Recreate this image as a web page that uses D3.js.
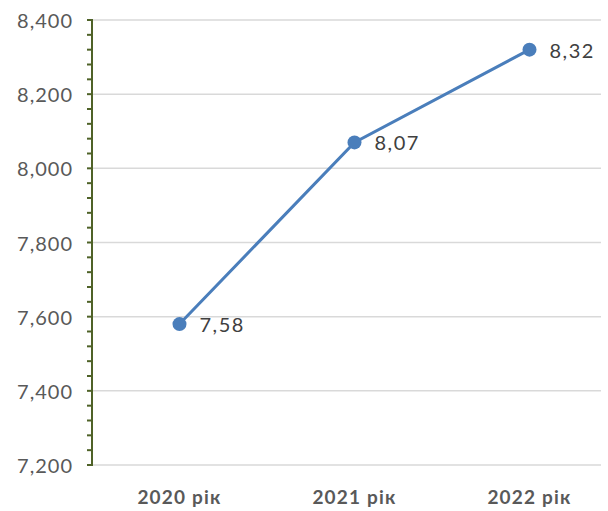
<!DOCTYPE html>
<html>
<head>
<meta charset="utf-8">
<script src="https://cdn.jsdelivr.net/npm/d3@7"></script>
<style>
  body { margin: 0; background: #fff; }
  text { font-family: Lato, "Open Sans", sans-serif; }
</style>
</head>
<body>
<div id="chart"></div>
<script>
const years = ['2020 рік', '2021 рік', '2022 рік'];
const values = [7580, 8070, 8320];
const valueLabels = ['7,58', '8,07', '8,32'];
const yTicks = [7200, 7400, 7600, 7800, 8000, 8200, 8400];

const width = 608, height = 511;
const margin = { top: 20, left: 92, bottom: 46 };
const plotBottom = height - margin.bottom;
const gridRight = 601;

const svg = d3.select('#chart').append('svg')
    .attr('width', width)
    .attr('height', height);

const xScale = d3.scaleBand().domain(years).range([margin.left, 617]);
const yScale = d3.scaleLinear().domain([7200, 8400]).range([plotBottom, margin.top]);

// gridlines
svg.append('g')
    .selectAll('line')
    .data(yTicks)
    .enter().append('line')
    .attr('x1', margin.left)
    .attr('x2', gridRight)
    .attr('y1', d => yScale(d))
    .attr('y2', d => yScale(d))
    .attr('stroke', '#d9d9d9')
    .attr('stroke-width', 1.5);

// y axis with minor ticks
const minorTicks = d3.range(7200, 8400.1, 40);
svg.append('g')
    .selectAll('line')
    .data(minorTicks)
    .enter().append('line')
    .attr('x1', margin.left - 5)
    .attr('x2', margin.left)
    .attr('y1', d => yScale(d))
    .attr('y2', d => yScale(d))
    .attr('stroke', '#4f6228')
    .attr('stroke-width', 2);

svg.append('line')
    .attr('x1', margin.left)
    .attr('x2', margin.left)
    .attr('y1', yScale(8400) - 1)
    .attr('y2', yScale(7200) + 1)
    .attr('stroke', '#4f6228')
    .attr('stroke-width', 2);

svg.append('g')
    .selectAll('text')
    .data(yTicks)
    .enter().append('text')
    .attr('x', 73)
    .attr('y', d => yScale(d) + 1)
    .attr('dy', '0.35em')
    .attr('text-anchor', 'end')
    .attr('fill', '#595959')
    .style('font-size', '20px')
    .style('letter-spacing', '1px')
    .text(d => d3.format(',')(d));

// x labels
svg.append('g')
    .selectAll('text')
    .data(years)
    .enter().append('text')
    .attr('x', d => xScale(d) + xScale.bandwidth() / 2)
    .attr('y', 497)
    .attr('dy', '0.35em')
    .attr('text-anchor', 'middle')
    .attr('fill', '#595959')
    .style('font-size', '19px')
    .style('font-weight', 'bold')
    .style('letter-spacing', '1.2px')
    .text(d => d);

const cx = (d, i) => xScale(years[i]) + xScale.bandwidth() / 2;

// line
const line = d3.line()
    .x((d, i) => cx(d, i))
    .y(d => yScale(d));

svg.append('path')
    .datum(values)
    .attr('d', line)
    .attr('fill', 'none')
    .attr('stroke', '#4a7ebb')
    .attr('stroke-width', 3);

svg.append('g')
    .selectAll('circle')
    .data(values)
    .enter().append('circle')
    .attr('cx', cx)
    .attr('cy', d => yScale(d))
    .attr('r', 7)
    .attr('fill', '#4a7ebb');

svg.append('g')
    .selectAll('text')
    .data(values)
    .enter().append('text')
    .attr('x', (d, i) => cx(d, i) + 20)
    .attr('y', d => yScale(d) + 1)
    .attr('dy', '0.35em')
    .attr('fill', '#404040')
    .style('font-size', '20px')
    .style('letter-spacing', '1.5px')
    .text((d, i) => valueLabels[i]);
</script>
</body>
</html>
